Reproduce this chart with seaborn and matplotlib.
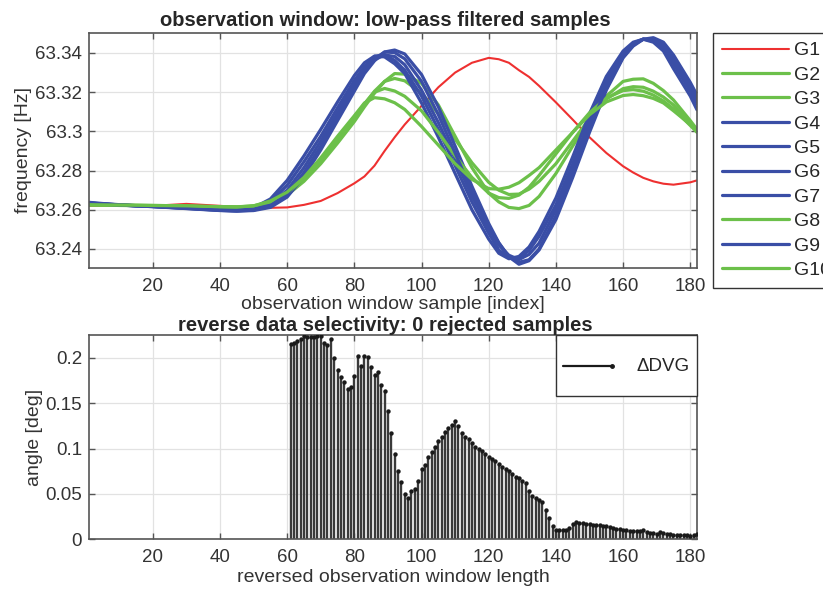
import matplotlib
matplotlib.use("Agg")
import matplotlib.pyplot as plt
import seaborn as sns
import numpy as np
import pandas as pd
from matplotlib.lines import Line2D
from matplotlib.legend_handler import HandlerBase
from matplotlib.ticker import FuncFormatter

# ---------------- data ----------------
sample_idx = [1, 5, 10, 15, 20, 25, 30, 35, 40, 45, 50, 55, 60, 65, 70, 75,
              80, 83, 86, 89, 92, 95,
              100, 105, 110, 115, 120,
              123, 126, 129, 132, 135,
              140, 145, 150, 155, 160,
              163, 166, 169, 172, 175,
              180, 182]

base = 63.0  # frequency offset [Hz], values below are the decimals
g1 = [.2620, .2620, .2620, .2620, .2620, .2625, .2630, .2625, .2620, .2615, .2610, .2610, .2612, .2625, .2645, .2685,
      .2735, .2770, .2825, .2900, .2970, .3035,
      .3130, .3225, .3300, .3350, .3375,
      .3368, .3350, .3312, .3278, .3232,
      .3148, .3060, .2970, .2890, .2822,
      .2790, .2763, .2745, .2733, .2728,
      .2740, .2750]
g2 = [.2625, .2624, .2622, .2621, .2620, .2620, .2618, .2615, .2612, .2612, .2618, .2635, .2675, .2745, .2835, .2940,
      .3050, .3125, .3195, .3255, .3295, .3292,
      .3245, .3135, .2975, .2815, .2685,
      .2640, .2612, .2606, .2622, .2668,
      .2785, .2925, .3060, .3180, .3255,
      .3266, .3268, .3245, .3208, .3160,
      .3055, .3010]
g3 = [.2625, .2624, .2623, .2622, .2621, .2620, .2618, .2616, .2614, .2613, .2617, .2635, .2680, .2755, .2850, .2955,
      .3065, .3140, .3205, .3255, .3270, .3258,
      .3195, .3090, .2960, .2840, .2740,
      .2700, .2678, .2680, .2705, .2745,
      .2835, .2950, .3065, .3165, .3218,
      .3228, .3225, .3205, .3175, .3135,
      .3045, .3005]
g4 = [.2635, .2630, .2625, .2620, .2618, .2614, .2610, .2605, .2600, .2598, .2605, .2640, .2725, .2845, .2975, .3120,
      .3260, .3330, .3383, .3391, .3362, .3312,
      .3180, .3010, .2825, .2640, .2480,
      .2395, .2355, .2352, .2392, .2465,
      .2625, .2835, .3055, .3255, .3400,
      .3450, .3471, .3461, .3419, .3345,
      .3205, .3140]
g5 = [.2632, .2628, .2624, .2620, .2616, .2612, .2608, .2603, .2598, .2595, .2600, .2628, .2700, .2815, .2950, .3095,
      .3240, .3315, .3365, .3390, .3382, .3340,
      .3210, .3045, .2860, .2670, .2505,
      .2420, .2368, .2346, .2372, .2430,
      .2600, .2810, .3035, .3240, .3392,
      .3448, .3470, .3465, .3435, .3360,
      .3222, .3160]
g6 = [.2638, .2632, .2626, .2621, .2617, .2613, .2609, .2604, .2600, .2599, .2610, .2655, .2750, .2875, .3010, .3150,
      .3285, .3350, .3384, .3380, .3345, .3295,
      .3145, .2970, .2785, .2600, .2450,
      .2378, .2350, .2362, .2410, .2490,
      .2660, .2870, .3090, .3280, .3410,
      .3455, .3470, .3455, .3410, .3320,
      .3180, .3110]
g7 = [.2633, .2629, .2624, .2620, .2616, .2611, .2606, .2601, .2596, .2593, .2596, .2612, .2665, .2770, .2905, .3055,
      .3205, .3295, .3360, .3405, .3415, .3395,
      .3290, .3125, .2925, .2720, .2530,
      .2432, .2360, .2322, .2340, .2395,
      .2550, .2765, .2995, .3210, .3375,
      .3435, .3470, .3478, .3455, .3390,
      .3250, .3185]
g8 = [.2626, .2625, .2624, .2623, .2622, .2621, .2619, .2617, .2615, .2614, .2620, .2640, .2685, .2760, .2855, .2965,
      .3075, .3140, .3200, .3219, .3206, .3179,
      .3105, .2995, .2875, .2765, .2685,
      .2662, .2658, .2675, .2715, .2775,
      .2885, .2995, .3095, .3170, .3208,
      .3213, .3205, .3185, .3155, .3115,
      .3030, .2995]
g9 = [.2634, .2630, .2625, .2621, .2617, .2612, .2607, .2602, .2597, .2594, .2598, .2620, .2680, .2790, .2925, .3075,
      .3220, .3305, .3370, .3405, .3402, .3370,
      .3255, .3085, .2890, .2690, .2515,
      .2430, .2360, .2332, .2345, .2400,
      .2570, .2785, .3012, .3222, .3380,
      .3440, .3470, .3472, .3445, .3380,
      .3240, .3180]
g10 = [.2626, .2625, .2624, .2623, .2622, .2621, .2620, .2618, .2616, .2615, .2620, .2645, .2690, .2765, .2865, .2975,
       .3080, .3145, .3172, .3166, .3146, .3112,
       .3025, .2930, .2835, .2755, .2708,
       .2705, .2715, .2738, .2775, .2815,
       .2905, .2995, .3085, .3150, .3183,
       .3188, .3182, .3168, .3145, .3105,
       .3035, .3005]

gen_names = ["G1", "G2", "G3", "G4", "G5", "G6", "G7", "G8", "G9", "G10"]
gen_series = [g1, g2, g3, g4, g5, g6, g7, g8, g9, g10]

RED, GREEN, BLUE = "#ee3030", "#6cc04a", "#3a4ea6"
gen_colors = [RED, GREEN, GREEN, BLUE, BLUE, BLUE, BLUE, GREEN, BLUE, GREEN]

# reversed observation window: angle differences for lengths 61..182 (0 before)
stem_idx = list(range(61, 183))
angle = [0.2150, 0.2165, 0.2190, 0.2215, 0.2245, 0.2235, 0.2230, 0.2232, 0.2240, 0.2240,  # 61-70
         0.2165, 0.2145, 0.2215, 0.2000, 0.1870, 0.1790, 0.1730, 0.1660, 0.1680, 0.1800,  # 71-80
         0.2020, 0.1910, 0.2020, 0.2010, 0.1900, 0.1810, 0.1840, 0.1700, 0.1630, 0.1410,  # 81-90
         0.1170, 0.0940, 0.0750, 0.0630, 0.0500, 0.0450, 0.0530, 0.0550, 0.0640, 0.0770,  # 91-100
         0.0820, 0.0910, 0.0960, 0.1020, 0.1080, 0.1130, 0.1180, 0.1230, 0.1260, 0.1300,  # 101-110
         0.1245, 0.1170, 0.1130, 0.1100, 0.1060, 0.1020, 0.0990, 0.0970, 0.0940, 0.0910,  # 111-120
         0.0880, 0.0860, 0.0830, 0.0800, 0.0770, 0.0750, 0.0720, 0.0690, 0.0670, 0.0640,  # 121-130
         0.0620, 0.0530, 0.0470, 0.0450, 0.0430, 0.0410, 0.0320, 0.0230, 0.0140, 0.0105,  # 131-140
         0.0100, 0.0100, 0.0105, 0.0120, 0.0165, 0.0185, 0.0180, 0.0175, 0.0170, 0.0165,  # 141-150
         0.0160, 0.0155, 0.0150, 0.0147, 0.0140, 0.0132, 0.0122, 0.0115, 0.0110, 0.0104,  # 151-160
         0.0098, 0.0092, 0.0087, 0.0085, 0.0090, 0.0096, 0.0076, 0.0072, 0.0066, 0.0060,  # 161-170
         0.0078, 0.0070, 0.0060, 0.0052, 0.0048, 0.0045, 0.0043, 0.0041, 0.0040, 0.0038,  # 171-180
         0.0040, 0.0050]                                                                  # 181-182


class StemHandler(HandlerBase):
    # matlab-like stem legend icon: line with a dot at the right end
    def create_artists(self, legend, orig_handle, xdescent, ydescent,
                       width, height, fontsize, trans):
        y = height / 2 - ydescent
        ln = Line2D([-xdescent, width - xdescent], [y, y], color="k", lw=1.6, transform=trans)
        dot = Line2D([width - xdescent], [y], color="k", marker="o", ms=2.5,
                     ls="none", transform=trans)
        return [ln, dot]


sns.set_theme(style="whitegrid")
plt.rcParams["font.family"] = ["Liberation Sans", "DejaVu Sans"]

fig = plt.figure(figsize=(8.23, 5.90), dpi=100)
ax1 = fig.add_axes([0.1081, 0.5458, 0.7388, 0.3983])
ax2 = fig.add_axes([0.1081, 0.0864, 0.7388, 0.3458])

# ---------------- top: low-pass filtered frequency ----------------
df = pd.DataFrame({
    "sample": np.tile(sample_idx, len(gen_names)),
    "freq": base + np.concatenate(gen_series),
    "gen": np.repeat(gen_names, len(sample_idx)),
})
for name, col in zip(gen_names, gen_colors):
    sub = df[df["gen"] == name]
    sns.lineplot(x=sub["sample"], y=sub["freq"], color=col,
                 linewidth=1.5 if col == RED else 2.3, label=name, ax=ax1)

ax1.set_xlim(1, 182)
ax1.set_ylim(63.2303, 63.3502)
ax1.set_yticks([63.24, 63.26, 63.28, 63.30, 63.32, 63.34])
ax1.yaxis.set_major_formatter(FuncFormatter(lambda v, p: "%g" % round(v, 4)))
ax1.set_title("observation window: low-pass filtered samples",
              fontsize=14.5, fontweight="bold", pad=5, x=0.487)
ax1.set_xlabel("observation window sample [index]", fontsize=14, color="#333333")
ax1.set_ylabel("frequency [Hz]", fontsize=14, color="#333333")
ax1.xaxis.set_label_coords(0.5, -0.12)
ax1.yaxis.set_label_coords(-0.094, 0.5)

handles = ax1.get_lines()[:len(gen_names)]
ax1.legend(handles, gen_names, loc="upper left", bbox_to_anchor=(0.8663, 0.9441),
           bbox_transform=fig.transFigure, fontsize=14, frameon=True, fancybox=False,
           edgecolor="#333333", framealpha=1, borderaxespad=0, borderpad=0.45,
           labelspacing=0.35, handlelength=3.45, handletextpad=0.25)

# ---------------- bottom: stem of angle differences ----------------
ax2.vlines(stem_idx, 0, angle, colors="#3a3a3a", linewidth=1.7)
sns.scatterplot(x=stem_idx, y=angle, color="k", s=10, linewidth=0, ax=ax2,
                zorder=3, legend=False)
ax2.set_xlim(1, 182)
ax2.set_ylim(0, 0.2254)
ax2.set_yticks([0, 0.05, 0.1, 0.15, 0.2])
ax2.yaxis.set_major_formatter(FuncFormatter(lambda v, p: "%g" % round(v, 4)))
ax2.set_title("reverse data selectivity: 0 rejected samples",
              fontsize=14.5, fontweight="bold", pad=3, x=0.487)
ax2.set_xlabel("reversed observation window length", fontsize=14, color="#333333")
ax2.set_ylabel("angle [deg]", fontsize=14, color="#333333")
ax2.xaxis.set_label_coords(0.5, -0.145)
ax2.yaxis.set_label_coords(-0.076, 0.5)

stem_handle = Line2D([], [], color="k")
ax2.legend([stem_handle], ["\u0394DVG"], handler_map={stem_handle: StemHandler()},
           loc="upper right", fontsize=13.5, frameon=True, fancybox=False,
           edgecolor="#333333", framealpha=1, borderaxespad=0, borderpad=0.4,
           handlelength=2.6, handleheight=3.4, handletextpad=1.3)

for ax in (ax1, ax2):
    ax.set_xticks(range(20, 181, 20))
    ax.grid(True, color="#e2e2e2", linewidth=0.9)
    ax.tick_params(direction="in", bottom=True, left=True, top=True, right=True,
                   length=4, width=1, color="#555555", labelsize=13.5,
                   labelcolor="#333333")
    ax.tick_params(axis="x", pad=7)
    ax.tick_params(axis="y", pad=5)
    for sp in ax.spines.values():
        sp.set_color("#555555")
        sp.set_linewidth(1.2)

fig.savefig("out.png", dpi=100)
